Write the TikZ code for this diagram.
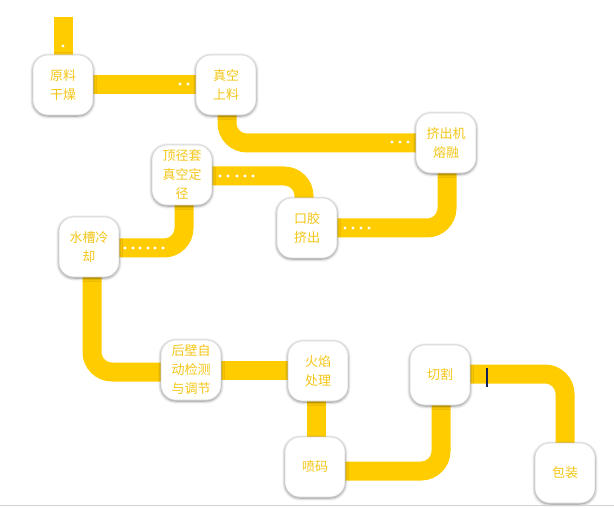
\documentclass[tikz,border=0pt]{standalone}
\usepackage{fontspec}
\newfontfamily\cjk{Noto Sans CJK SC}
\usetikzlibrary{shadows.blur,backgrounds}
\definecolor{track}{RGB}{255,204,0}
\definecolor{txt}{RGB}{244,198,24}
\definecolor{cursor}{RGB}{20,30,90}
\tikzset{
  stage/.style={rectangle, rounded corners=15pt, minimum width=60pt, minimum height=60pt,
    fill=white, draw=gray!30, line width=0.6pt, align=center, text=txt,
    font=\cjk\fontsize{13pt}{19pt}\selectfont,
    blur shadow={shadow xshift=0pt, shadow yshift=-1pt, shadow blur radius=3pt, shadow opacity=50, shadow blur steps=6}},
  rail/.style={draw=track, line width=19pt, rounded corners=20pt},
  stud/.style={fill=white, draw=none},
}
\begin{document}
\begin{tikzpicture}[x=1pt,y=-1pt]
\useasboundingbox (0,0) rectangle (614,508);
\node[stage] (n1) at (63,85) {原料\\干燥};
\node[stage] (n2) at (226,85) {真空\\上料};
\node[stage] (n3) at (446,143) {挤出机\\熔融};
\node[stage] (n4) at (182,175) {顶径套\\真空定\\径};
\node[stage] (n5) at (307,228) {口胶\\挤出};
\node[stage] (n6) at (89,247) {水槽冷\\却};
\node[stage] (n7) at (191,370) {后壁自\\动检测\\与调节};
\node[stage] (n8) at (318,371) {火焰\\处理};
\node[stage] (n9) at (315,467) {喷码};
\node[stage] (n10) at (440,375) {切割};
\node[stage] (n11) at (565,473) {包装};
\coordinate (top) at (63.5,17);
\begin{pgfonlayer}{background}
\draw[rail] (top) -- (top |- n1.center);
\draw[rail] ([yshift=0.5pt]n1.center) -- ([yshift=0.5pt]n2.center);
\draw[rail] ([xshift=1pt]n2.center) |- (n3.center);
\draw[rail] ([xshift=1pt]n3.center) |- (n5.center);
\draw[rail] ([xshift=-3pt]n5.center) |- ([yshift=-1pt]n4.center);
\draw[rail] ([xshift=2pt]n4.center) |- ([yshift=-1pt]n6.center);
\draw[rail] ([xshift=3pt]n6.center) |- ([yshift=-2pt]n7.center);
\draw[rail] (n7.center) -- ([yshift=1pt]n8.center);
\draw[rail] ([xshift=-2pt]n8.center) -- ([xshift=1pt]n9.center);
\draw[rail] ([yshift=-4pt]n9.center) -| ([xshift=1pt]n10.center);
\draw[rail] ([yshift=1pt]n10.center) -| (n11.center);
\foreach \x/\y in {63/46, 180/84, 188/84, 392/142, 400/142, 408/142,
  345/228, 353/228, 361/228, 369/228,
  220/176, 228/176, 237/176, 245/176, 253/176,
  125/248, 133/248, 140/248, 148/248, 155/248, 163/248}
  \fill[stud] (\x,\y) circle (1.6pt);
\end{pgfonlayer}
\draw[cursor, line width=1.6pt] (487,368) -- (487,387);
\draw[gray!35, line width=1.5pt] (0,505.5) -- (614,505.5);
\end{tikzpicture}
\end{document}
